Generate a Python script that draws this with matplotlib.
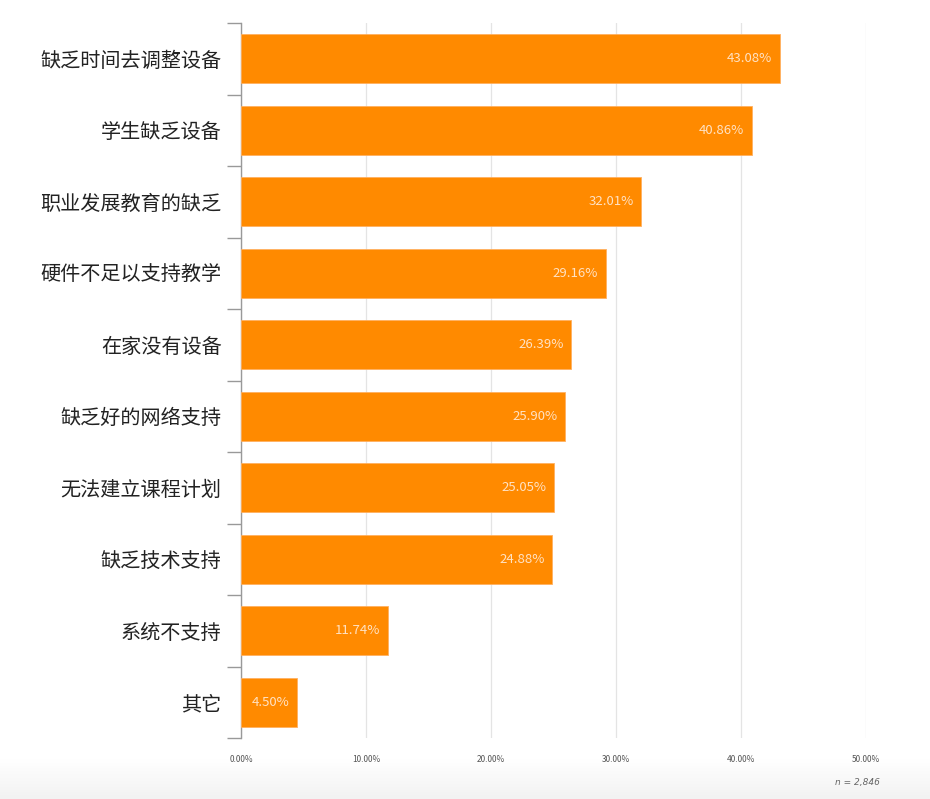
import matplotlib
matplotlib.use("Agg")
import matplotlib.pyplot as plt
import numpy as np

plt.rcParams['font.family'] = ['Noto Sans CJK SC', 'DejaVu Sans']

categories = ["缺乏时间去调整设备", "学生缺乏设备", "职业发展教育的缺乏", "硬件不足以支持教学",
              "在家没有设备", "缺乏好的网络支持", "无法建立课程计划", "缺乏技术支持",
              "系统不支持", "其它"]
values = [43.08, 40.86, 32.01, 29.16, 26.39, 25.90, 25.05, 24.88, 11.74, 4.50]
xticks = [0, 10, 20, 30, 40, 50]
n_text = "n = 2,846"

fig = plt.figure(figsize=(9.30, 7.99), dpi=100)
# subtle grey gradient at the bottom
grad_ax = fig.add_axes([0, 0, 1, 0.05], zorder=-5)
grad = np.linspace(0, 1, 50).reshape(-1, 1)
grad_ax.imshow(grad, aspect='auto', cmap=matplotlib.colors.LinearSegmentedColormap.from_list(
    'g', ['#f2f2f2', '#ffffff']), extent=[0, 1, 0, 1], origin='lower')
grad_ax.axis('off')

ax = fig.add_axes([241/930, 1-738/799, (866-241)/930, (738-23)/799])
ax.patch.set_alpha(0)
y = np.arange(len(categories))
ax.barh(y, values, height=0.69, color='#FF8A00', edgecolor='#FFB060', linewidth=0.6, zorder=3)
ax.set_ylim(len(categories) - 0.5, -0.5)
ax.set_xlim(0, 50)

for yi, v in zip(y, values):
    ax.text(v - 0.6, yi, f"{v:.2f}%", ha='right', va='center', fontsize=9.5,
            color='#FFE2C4', zorder=4)

ax.set_yticks(np.arange(len(categories) + 1) - 0.5)
ax.set_yticklabels([])
ax.set_yticks(y, minor=True)
ax.set_yticklabels(categories, minor=True, fontsize=14.5, color='#222222')
ax.tick_params(axis='y', which='minor', length=0, pad=14)
ax.tick_params(axis='y', which='major', length=10, width=1, color='#999999')

ax.set_xticks(xticks)
ax.set_xticklabels([f"{t:.2f}%" for t in xticks], fontsize=6, color='#555555')
ax.tick_params(axis='x', length=0, pad=12)
ax.grid(axis='x', color='#e4e4e4', linewidth=0.9, zorder=0)
for s in ['top', 'right', 'bottom']:
    ax.spines[s].set_visible(False)
ax.spines['left'].set_color('#999999')
ax.spines['left'].set_linewidth(1)

fig.text(880/930, 1-783/799, n_text, ha='right', va='center', fontsize=6.5,
         style='italic', color='#666666', family='DejaVu Sans')

fig.savefig("out.png", dpi=100)
